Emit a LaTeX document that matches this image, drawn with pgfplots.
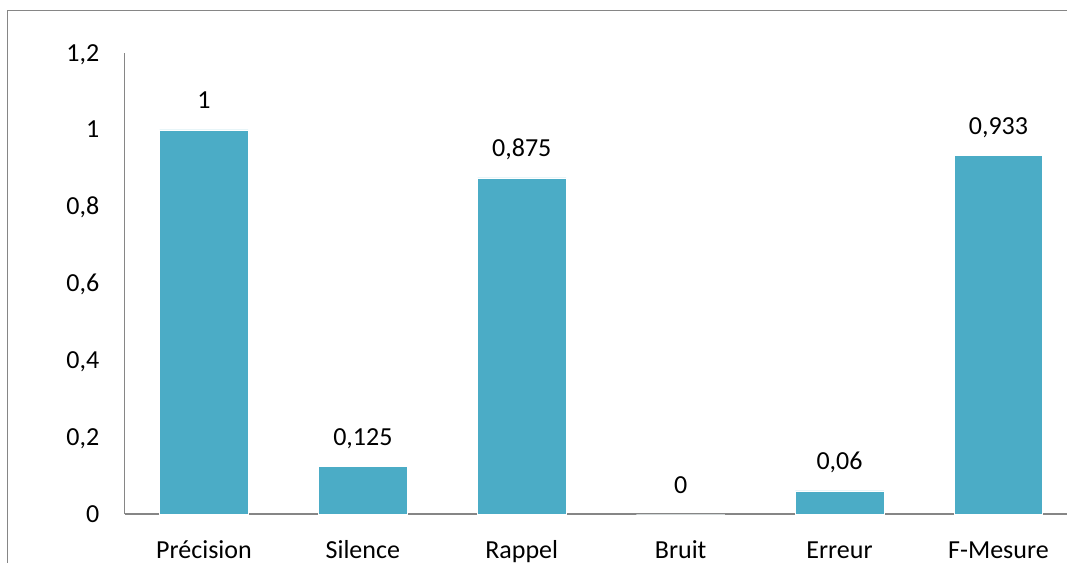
\documentclass[border=0pt]{standalone}
\usepackage{pgfplots}
\pgfplotsset{compat=1.18}
\usepackage{fontspec}
\setmainfont{Carlito}
\definecolor{barc}{HTML}{4BACC6}
\definecolor{axc}{HTML}{868686}
\begin{document}
\fontsize{26}{30}\selectfont
\begin{tikzpicture}[x=1pt,y=1pt]
\useasboundingbox (0,0) rectangle (1067,562);
\clip (0,0) rectangle (1067,562);
\draw[axc, line width=1.2pt] (7.5,-2) -- (7.5,551.5) -- (1070,551.5);
\begin{axis}[
  at={(124.5pt,48pt)}, anchor=south west,
  scale only axis, width=953.4pt, height=460.8pt,
  xmin=-0.5, xmax=5.5, ymin=0, ymax=1.2,
  axis x line*=bottom, axis y line*=left,
  axis line style={axc, line width=1.2pt},
  major tick length=0pt,
  xtick=data,
  xticklabels={Précision,Silence,Rappel,Bruit,Erreur,F-Mesure},
  ytick={0,0.2,0.4,0.6,0.8,1,1.2},
  /pgf/number format/.cd, use comma, fixed, precision=3, assume math mode=true,
  /pgfplots/.cd,
  every x tick label/.append style={anchor=base, inner sep=0pt, yshift=-44pt},
  every y tick label/.append style={anchor=base east, inner sep=0pt, xshift=-25pt, yshift=-8pt},
  ticklabel style={font=\fontsize{26}{30}\selectfont},
  nodes near coords,
  every node near coord/.append style={anchor=base, inner sep=0pt, yshift=21pt, font=\fontsize{26}{30}\selectfont, text=black},
  ybar, bar width=88.5pt,
]
\addplot[fill=barc, draw=white, line width=0.6pt] coordinates {(0,1) (1,0.125) (2,0.875) (3,0) (4,0.06) (5,0.933)};
\end{axis}
\end{tikzpicture}
\end{document}
